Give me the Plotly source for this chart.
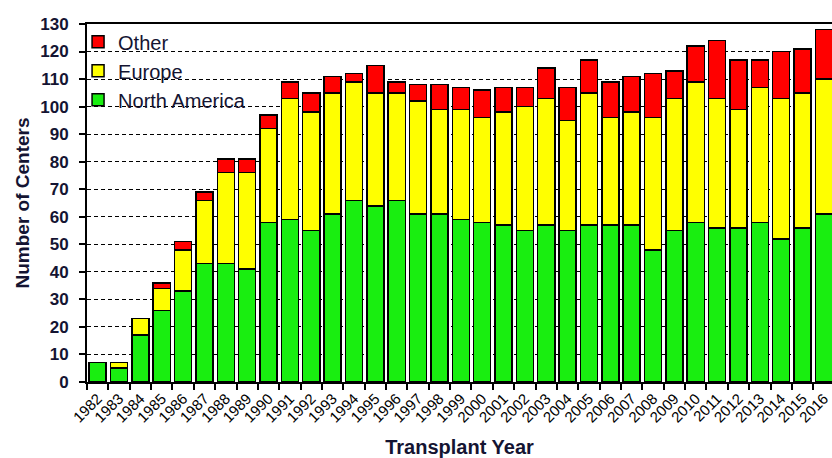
import plotly.graph_objects as go

years = [str(y) for y in range(1982, 2017)]
north_america = [7, 5, 17, 26, 33, 43, 43, 41, 58, 59, 55, 61, 66, 64, 66, 61, 61, 59, 58, 57,
                 55, 57, 55, 57, 57, 57, 48, 55, 58, 56, 56, 58, 52, 56, 61]
europe = [0, 2, 6, 8, 15, 23, 33, 35, 34, 44, 43, 44, 43, 41, 39, 41, 38, 40, 38, 41,
          45, 46, 40, 48, 39, 41, 48, 48, 51, 47, 43, 49, 51, 49, 49]
other = [0, 0, 0, 2, 3, 3, 5, 5, 5, 6, 7, 6, 3, 10, 4, 6, 9, 8, 10, 9,
         7, 11, 12, 12, 13, 13, 16, 10, 13, 21, 18, 10, 17, 16, 18]
y_ticks = list(range(0, 131, 10))

FONT = "Liberation Sans, Arial, sans-serif"
TXT = "#141432"

fig = go.Figure()
series = [("North America", north_america, "#19EE10"),
          ("Europe", europe, "#FFFF00"),
          ("Other", other, "#FF0000")]
for name, vals, col in series:
    fig.add_trace(go.Bar(
        x=years, y=vals, name=name, legendgroup=name,
        marker=dict(color=col, line=dict(color="black", width=1.5)),
    ))

FIG_W, FIG_H = 832, 458
ML, MT, MB = 87, 24, 76
cat_w = 21.36
plot_w = FIG_W - ML

# white panel behind the legend hides the dashed grid there (not the bars)
fig.add_shape(type="rect", xref="paper", yref="y", x0=0.002, x1=(261 - 87) / plot_w,
              y0=94, y1=129.4, fillcolor="white", line=dict(width=0), layer="between")

fig.update_layout(
    barmode="stack",
    bargap=0.2,
    width=FIG_W, height=FIG_H,
    margin=dict(l=ML, r=0, t=MT, b=MB, autoexpand=False),
    paper_bgcolor="white", plot_bgcolor="white",
    font=dict(family=FONT, color=TXT),
    showlegend=True,
    legend=dict(
        x=-0.012, xanchor="left", y=1.005, yanchor="top",
        bgcolor="rgba(0,0,0,0)", traceorder="reversed",
        font=dict(size=20, color=TXT, family=FONT),
        tracegroupgap=3, itemwidth=30,
        borderwidth=0,
    ),
    xaxis=dict(
        type="category",
        automargin=False,
        range=[-0.5, -0.5 + plot_w / cat_w],
        tickson="boundaries",
        ticks="outside", ticklen=6, tickwidth=1.5, tickcolor="black",
        tickangle=-45,
        tickfont=dict(size=15, color="black", family=FONT),
        showline=True, linecolor="black", linewidth=2, mirror=True,
        showgrid=False,
        title=dict(text="<b>Transplant Year</b>", font=dict(size=20, color=TXT, family=FONT), standoff=18),
    ),
    yaxis=dict(
        automargin=False,
        range=[0, 130],
        tickvals=y_ticks,
        ticks="outside", ticklen=6, tickwidth=1.5, tickcolor="black",
        ticklabelstandoff=7,
        tickfont=dict(size=17, color=TXT, family=FONT, weight="bold"),
        showline=True, linecolor="black", linewidth=2,
        showgrid=True, gridcolor="black", gridwidth=1, griddash="4px,3px",
        zeroline=False,
        title=dict(text="<b>Number of Centers</b>", font=dict(size=19, color=TXT, family=FONT), standoff=6),
    ),
)

fig.write_html(
    "out.html",
    config={"displayModeBar": False},
    post_script="document.body.style.margin='0';document.documentElement.style.overflow='hidden';",
)
